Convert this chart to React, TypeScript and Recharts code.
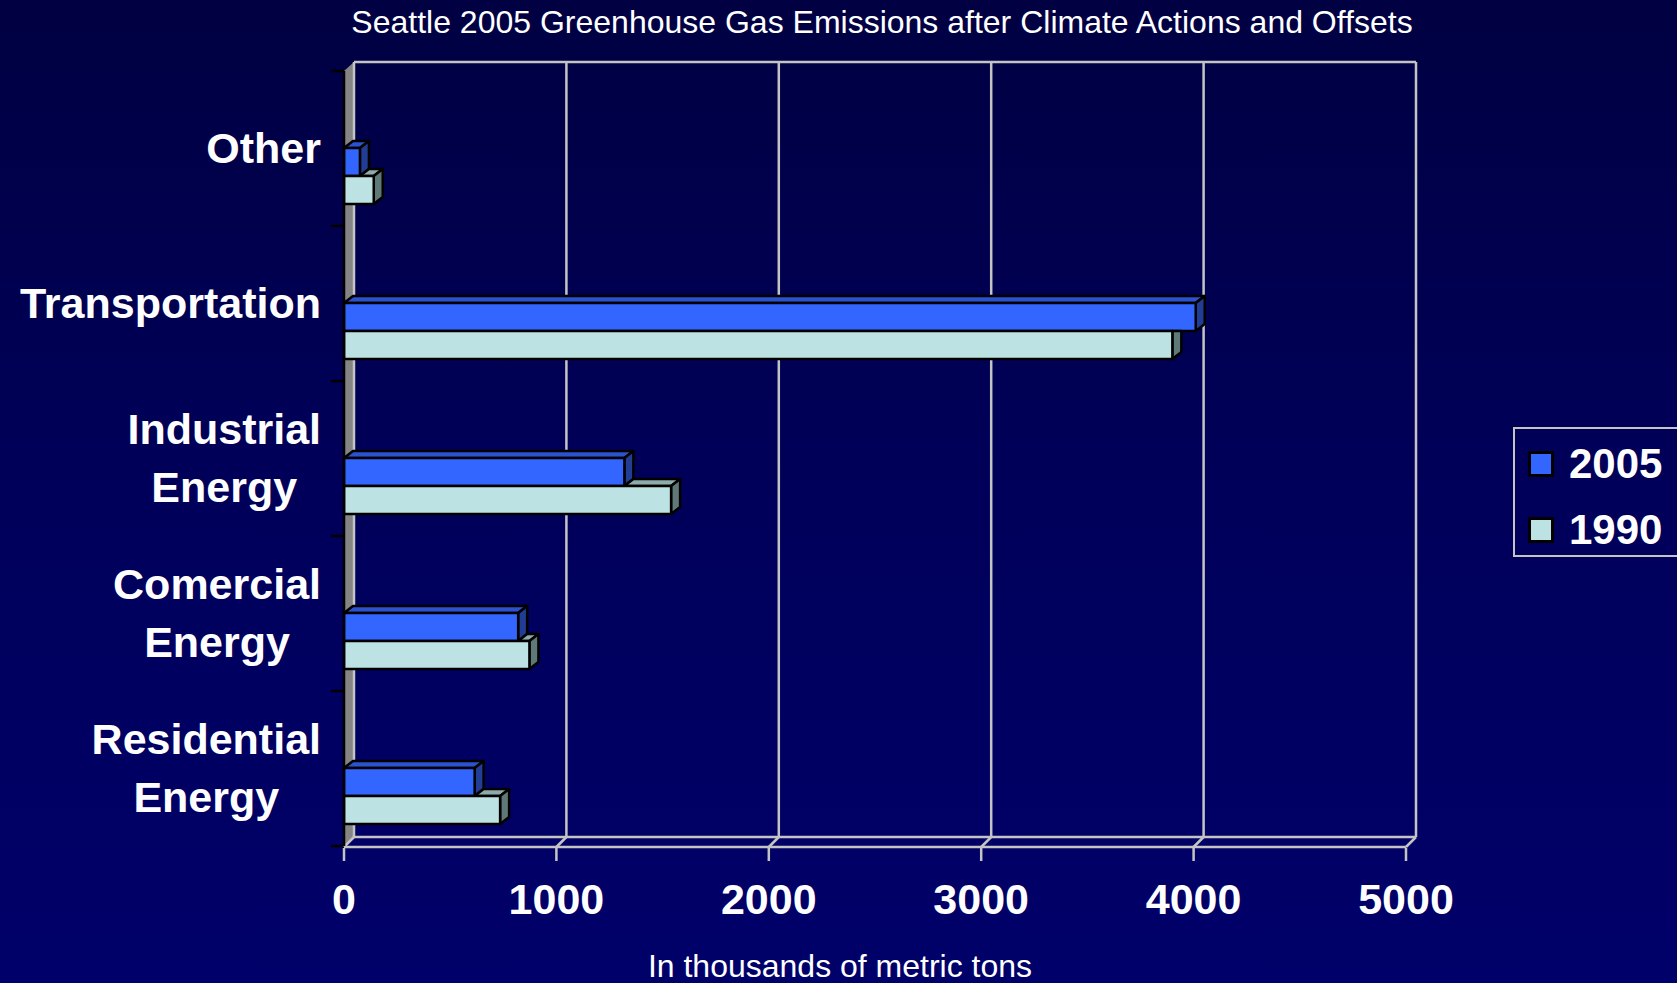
import React from "react";
import { BarChart, Bar, XAxis, YAxis, CartesianGrid, Legend } from "recharts";

const CATEGORIES = ["Other", "Transportation", "Industrial Energy", "Comercial Energy", "Residential Energy"];
const SERIES = ["2005", "1990"];
const EMISSIONS_2005 = [75, 4010, 1320, 820, 615];
const EMISSIONS_1990 = [140, 3900, 1540, 873, 735];
const X_TICKS = [0, 1000, 2000, 3000, 4000, 5000];

const data = CATEGORIES.map((category, i) => ({
    category,
    y2005: EMISSIONS_2005[i],
    y1990: EMISSIONS_1990[i],
}));

const FONT = "'Liberation Sans', Arial, Helvetica, sans-serif";
const GRID = "#c4c4c4";
const COLOR_2005 = "#3366ff";
const TOP_2005 = "#2b52d0";
const SIDE_2005 = "#213d96";
const COLOR_1990 = "#bde2e3";
const TOP_1990 = "#8eabab";
const SIDE_1990 = "#5f7878";

// fake 3d depth
const WALL_DX = 10;
const WALL_DY = 9;
const BAR_DX = 9;
const BAR_DY = 7;
const BAR_SHIFT = 27;

const ctx = typeof document !== "undefined" ? document.createElement("canvas").getContext("2d") : null;
const textWidth = (s: string, font: string) => {
    if (!ctx) return s.length * 24;
    ctx.font = font;
    return ctx.measureText(s).width;
};

const pts = (list: number[][]) => list.map((p) => p.join(",")).join(" ");

const frontBar = (props: any) => {
    const { x, y, width, height } = props;
    const t = y + BAR_SHIFT;
    const r = x + width;
    return (
        <g stroke="#000" strokeWidth={2.5} strokeLinejoin="round">
            <polygon points={pts([[x, t], [r, t], [r + BAR_DX, t - BAR_DY], [x + BAR_DX, t - BAR_DY]])} fill={TOP_2005} />
            <polygon points={pts([[r, t], [r + BAR_DX, t - BAR_DY], [r + BAR_DX, t + height - BAR_DY], [r, t + height]])} fill={SIDE_2005} />
            <rect x={x} y={t} width={width} height={height} fill={COLOR_2005} />
        </g>
    );
};

const backBar = (props: any) => {
    const { x, y, width, height, payload } = props;
    const t = y + BAR_SHIFT;
    const r = x + width;
    // part of the top face hidden behind the 2005 bar
    const hidden = payload.y1990 > 0 ? width * Math.min(1, payload.y2005 / payload.y1990) : 0;
    const h = x + hidden;
    const showTop = r > h + 0.5;
    const side = showTop
        ? [[r, t], [r + BAR_DX, t - BAR_DY], [r + BAR_DX, t + height - BAR_DY], [r, t + height]]
        : [[r, t], [r + BAR_DX, t], [r + BAR_DX, t + height - BAR_DY], [r, t + height]];
    return (
        <g stroke="#000" strokeWidth={2.5} strokeLinejoin="round">
            {showTop && (
                <polygon points={pts([[h, t], [r, t], [r + BAR_DX, t - BAR_DY], [h + BAR_DX, t - BAR_DY]])} fill={TOP_1990} />
            )}
            <polygon points={pts(side)} fill={SIDE_1990} />
            <rect x={x} y={t} width={width} height={height} fill={COLOR_1990} />
        </g>
    );
};

const horizontalLine = (p: any) => {
    const { x1, x2, y1 } = p;
    const isTop = Math.abs(y1 - p.y) < 1;
    const isBottom = Math.abs(y1 - (p.y + p.height)) < 1;
    return (
        <g key={p.key}>
            <line x1={x1 - 13} y1={y1} x2={x1} y2={y1} stroke="#000" strokeWidth={2.5} />
            {isTop && (
                <line x1={x1 + WALL_DX} y1={y1 - WALL_DY} x2={x2 + WALL_DX} y2={y1 - WALL_DY} stroke={GRID} strokeWidth={2.5} />
            )}
            {isBottom && (
                <>
                    <line x1={x1} y1={y1 + 1} x2={x2} y2={y1 + 1} stroke={GRID} strokeWidth={2.5} />
                    <line x1={x1 + WALL_DX} y1={y1 - WALL_DY} x2={x2 + WALL_DX} y2={y1 - WALL_DY} stroke={GRID} strokeWidth={2.5} />
                </>
            )}
        </g>
    );
};

const verticalLine = (p: any) => {
    const { x1, y1, y2 } = p;
    const atOrigin = Math.abs(x1 - p.x) < 1;
    return (
        <g key={p.key}>
            {atOrigin && (
                <polygon
                    points={pts([[x1, y1], [x1 + WALL_DX, y1 - WALL_DY], [x1 + WALL_DX, y2 - WALL_DY], [x1, y2]])}
                    fill="#858585"
                />
            )}
            <line x1={x1 + WALL_DX} y1={y1 - WALL_DY} x2={x1 + WALL_DX} y2={y2 - WALL_DY} stroke={GRID} strokeWidth={2.5} />
            <line x1={x1} y1={y2 + 1} x2={x1 + WALL_DX} y2={y2 - WALL_DY} stroke={GRID} strokeWidth={2.5} />
        </g>
    );
};

const LABEL_FONT = `bold 43px "Liberation Sans"`;

const CategoryTick = ({ x, y, payload }: any) => {
    const lines = String(payload.value).split(" ");
    const widest = Math.max(...lines.map((l) => textWidth(l, LABEL_FONT)));
    const cx = x - 23 - widest / 2;
    return (
        <text textAnchor="middle" fill="#fff" fontSize={43} fontWeight="bold" fontFamily={FONT}>
            {lines.map((l, i) => (
                <tspan key={i} x={cx} y={y + 14 + (i - (lines.length - 1) / 2) * 58}>
                    {l}
                </tspan>
            ))}
        </text>
    );
};

const ValueTick = ({ x, y, payload }: any) => (
    <g>
        <line x1={x} y1={y + 2} x2={x} y2={y + 15} stroke={GRID} strokeWidth={2.5} />
        <text x={x} y={y + 68} textAnchor="middle" fill="#fff" fontSize={43} fontWeight="bold" fontFamily={FONT}>
            {payload.value}
        </text>
    </g>
);

const LegendBox = ({ payload }: any) => {
    const items = [...(payload || [])].sort(
        (a: any, b: any) => SERIES.indexOf(String(a.value)) - SERIES.indexOf(String(b.value))
    );
    return (
        <div
            style={{
                boxSizing: "border-box",
                width: 200,
                height: 130,
                border: `2.5px solid ${GRID}`,
                paddingTop: 22,
                paddingLeft: 13,
            }}
        >
            {items.map((entry: any, i: number) => (
                <div key={i} style={{ display: "flex", alignItems: "center", height: 26, marginBottom: i === 0 ? 40 : 0 }}>
                    <span
                        style={{
                            display: "inline-block",
                            boxSizing: "border-box",
                            width: 26,
                            height: 26,
                            border: "3px solid #000",
                            background: entry.color,
                        }}
                    />
                    <span
                        style={{
                            marginLeft: 15,
                            color: "#fff",
                            fontSize: 42,
                            fontWeight: "bold",
                            lineHeight: "42px",
                            fontFamily: FONT,
                        }}
                    >
                        {entry.value}
                    </span>
                </div>
            ))}
        </div>
    );
};

const App = () => {
    return (
        <div
            style={{
                position: "fixed",
                left: 0,
                top: 0,
                width: 1677,
                height: 983,
                overflow: "hidden",
                background: "linear-gradient(180deg, #000042 0%, #00005a 50%, #00006a 100%)",
                fontFamily: FONT,
            }}
        >
            <BarChart
                width={1677}
                height={983}
                data={data}
                layout="vertical"
                barGap={0}
                margin={{ top: 71, right: 271, bottom: 77, left: 14 }}
            >
                <CartesianGrid
                    horizontal={horizontalLine}
                    vertical={verticalLine}
                    horizontalCoordinatesGenerator={({ offset }: any) =>
                        CATEGORIES.map((_, i) => offset.top + (i * offset.height) / CATEGORIES.length).concat(
                            offset.top + offset.height
                        )
                    }
                />
                <XAxis
                    type="number"
                    domain={[0, 5000]}
                    ticks={X_TICKS}
                    height={60}
                    axisLine={false}
                    tickLine={false}
                    tickSize={0}
                    tickMargin={0}
                    tick={ValueTick}
                    interval={0}
                />
                <YAxis
                    type="category"
                    dataKey="category"
                    width={330}
                    axisLine={{ stroke: "#000", strokeWidth: 2.5 }}
                    tickLine={false}
                    tickSize={0}
                    tickMargin={0}
                    tick={CategoryTick}
                    interval={0}
                />
                <Legend
                    layout="vertical"
                    align="center"
                    verticalAlign="middle"
                    content={LegendBox}
                    wrapperStyle={{ left: 1513, top: 427, width: 200, height: 130 }}
                />
                <Bar
                    dataKey="y2005"
                    name="2005"
                    fill={COLOR_2005}
                    barSize={28}
                    shape={frontBar}
                    activeBar={false}
                    isAnimationActive={false}
                />
                <Bar
                    dataKey="y1990"
                    name="1990"
                    fill={COLOR_1990}
                    barSize={28}
                    shape={backBar}
                    activeBar={false}
                    isAnimationActive={false}
                />
            </BarChart>
            <div
                style={{
                    position: "absolute",
                    left: 232,
                    top: 6,
                    width: 1300,
                    textAlign: "center",
                    whiteSpace: "nowrap",
                    color: "#fff",
                    fontSize: 32,
                    lineHeight: "32px",
                }}
            >
                Seattle 2005 Greenhouse Gas Emissions after Climate Actions and Offsets
            </div>
            <div
                style={{
                    position: "absolute",
                    left: 340,
                    top: 950,
                    width: 1000,
                    textAlign: "center",
                    whiteSpace: "nowrap",
                    color: "#fff",
                    fontSize: 32,
                    lineHeight: "32px",
                }}
            >
                In thousands of metric tons
            </div>
        </div>
    );
};

export default App;
